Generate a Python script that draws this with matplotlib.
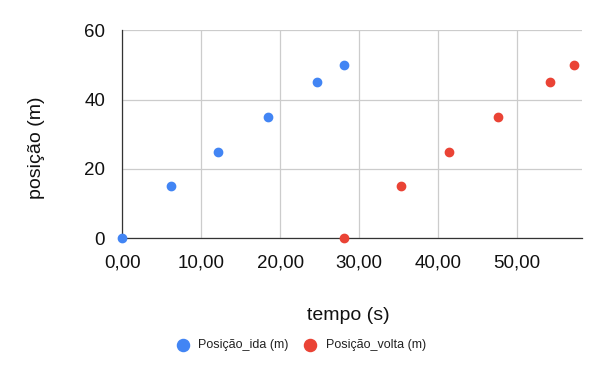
import matplotlib.pyplot as plt
from matplotlib.ticker import FuncFormatter

# Data
tempo_ida = [0.0, 6.17, 12.17, 18.5, 24.67, 28.05]
posicao_ida = [0, 15, 25, 35, 45, 50]
tempo_volta = [28.05, 35.27, 41.36, 47.65, 54.16, 57.28]
posicao_volta = [0, 15, 25, 35, 45, 50]

x_ticks = [0, 10, 20, 30, 40, 50]
y_ticks = [0, 20, 40, 60]

blue = "#4285F4"
red = "#EA4335"

plt.rcParams['font.family'] = ['Liberation Sans', 'DejaVu Sans']

fig = plt.figure(figsize=(6, 3.71), dpi=100)
ax = fig.add_axes([0.2037, 0.3577, 0.7658, 0.5606])

ax.scatter(tempo_ida, posicao_ida, s=36, color=blue, label="Posição_ida (m)", zorder=3, clip_on=False)
ax.scatter(tempo_volta, posicao_volta, s=36, color=red, label="Posição_volta (m)", zorder=3, clip_on=False)

ax.set_xlim(0, 58.2)
ax.set_ylim(0, 60)
ax.set_xticks(x_ticks)
ax.set_yticks(y_ticks)
ax.xaxis.set_major_formatter(FuncFormatter(lambda v, p: f"{v:.2f}".replace(".", ",")))

ax.grid(True, color="#cccccc", linewidth=0.9)
ax.set_axisbelow(True)
for side in ["top", "right"]:
    ax.spines[side].set_visible(False)
ax.spines["left"].set_color("#333333")
ax.spines["bottom"].set_color("#333333")
ax.spines["left"].set_linewidth(0.9)
ax.spines["bottom"].set_linewidth(0.9)
ax.tick_params(length=0, labelsize=13.5, colors="#111111")
ax.tick_params(axis="x", pad=11.5)
ax.tick_params(axis="y", pad=12.3)

ax.set_xlabel("tempo (s)", fontsize=14, color="#111111", labelpad=26)
ax.set_ylabel("posição (m)", fontsize=14, color="#111111", labelpad=28)
ax.xaxis.label.set_x(0.491)
ax.yaxis.label.set_y(0.434)

leg = fig.legend(loc="center", bbox_to_anchor=(0.4965, 0.07), ncol=2, frameon=False,
                 fontsize=9, markerscale=1.45, handletextpad=0.25, columnspacing=0.72)
for t in leg.get_texts():
    t.set_color("#222222")

fig.savefig("out.png", dpi=100)
